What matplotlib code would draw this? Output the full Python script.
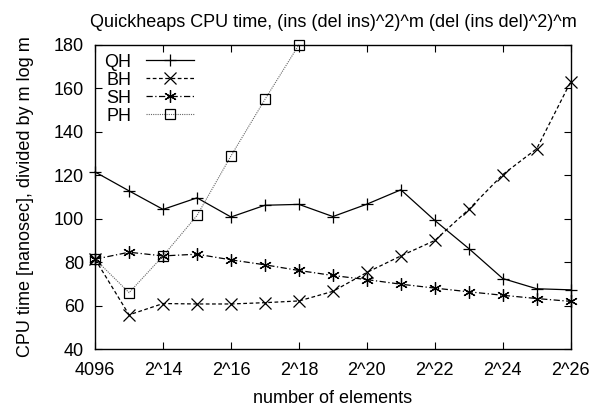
import matplotlib
matplotlib.use('Agg')
import matplotlib.pyplot as plt
import numpy as np

plt.rcParams['font.family'] = ['Liberation Sans', 'DejaVu Sans']

# exponent of number of elements (2^12 = 4096 ... 2^26)
exps = [12, 13, 14, 15, 16, 17, 18, 19, 20, 21, 22, 23, 24, 25, 26]
qh = [121.5, 112.8, 104.3, 109.6, 100.8, 106.2, 106.6, 101.0, 106.7, 113.3, 99.2, 86.3, 72.5, 67.8, 67.3]
bh = [81.4, 55.8, 61.0, 60.8, 60.8, 61.4, 62.2, 66.6, 75.3, 82.9, 90.0, 104.3, 120.3, 132.2, 163.0]
sh = [81.4, 84.6, 82.9, 83.7, 81.1, 78.8, 76.2, 73.9, 72.0, 69.9, 68.1, 66.4, 64.8, 63.3, 62.0]
ph_exps = [12, 13, 14, 15, 16, 17, 18]
ph = [81.4, 66.0, 82.9, 101.5, 128.9, 154.9, 180.0]

xticks = [12, 14, 16, 18, 20, 22, 24, 26]
xticklabels = ['4096', '2^14', '2^16', '2^18', '2^20', '2^22', '2^24', '2^26']
yticks = [40, 60, 80, 100, 120, 140, 160, 180]

fig = plt.figure(figsize=(6.02, 4.07), dpi=100)
ax = fig.add_axes([0.158, 0.142, 0.790, 0.748])

fs = 13
ms = 8
ax.plot(exps, qh, color='black', lw=0.9, ls='-', marker='+', ms=ms + 1, mew=0.9, label='QH', clip_on=False)
ax.plot(exps, bh, color='black', lw=0.9, ls=(0, (3, 2)), marker='x', ms=ms, mew=0.9, label='BH', clip_on=False)
ax.plot(exps, sh, color='black', lw=0.9, ls=(0, (5, 2, 1, 2)), marker=(6, 2, 0), ms=ms + 1, mew=0.9, label='SH', clip_on=False)
ax.plot(ph_exps, ph, color='#666666', lw=0.8, ls=(0, (1, 1)), marker='s', ms=ms - 0.5, mew=0.9,
        mfc='none', mec='black', label='PH', clip_on=False)

ax.set_xlim(12, 26)
ax.set_ylim(40, 180)
ax.set_xticks(xticks)
ax.set_xticklabels(xticklabels)
ax.set_yticks(yticks)
ax.tick_params(direction='in', length=5, width=0.8, top=True, right=True, labelsize=fs)
ax.tick_params(axis='x', pad=9)
ax.tick_params(axis='y', pad=8)
for s in ax.spines.values():
    s.set_linewidth(1.0)

ax.set_title('Quickheaps CPU time, (ins (del ins)^2)^m (del (ins del)^2)^m', fontsize=fs, pad=13)
ax.set_xlabel('number of elements', fontsize=fs, labelpad=8)
ax.set_ylabel('CPU time [nanosec], divided by m log m', fontsize=fs, labelpad=14)

leg = ax.legend(loc='upper left', frameon=False, fontsize=fs, handlelength=2.7, handletextpad=0.8,
                labelspacing=0.05, borderaxespad=0.3, borderpad=0.2, markerfirst=False)

fig.savefig('out.png', dpi=100)
